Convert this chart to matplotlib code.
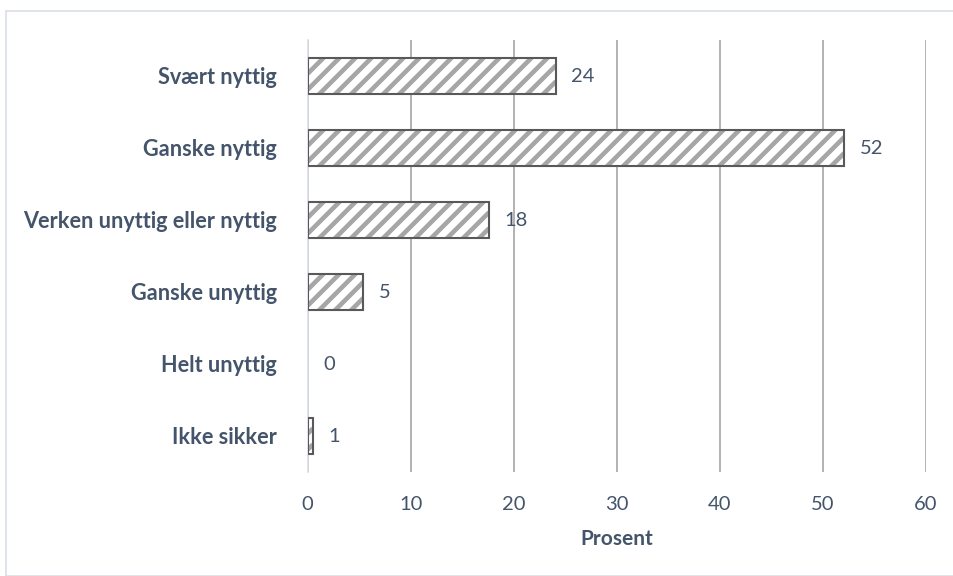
import matplotlib
matplotlib.use("Agg")
import matplotlib.pyplot as plt
from matplotlib.patches import Rectangle
from matplotlib.collections import LineCollection
import numpy as np

categories = ["Svært nyttig", "Ganske nyttig", "Verken unyttig eller nyttig",
              "Ganske unyttig", "Helt unyttig", "Ikke sikker"]
values = [24.1, 52.1, 17.6, 5.4, 0.0, 0.5]
labels = ["24", "52", "18", "5", "0", "1"]
xticks = [0, 10, 20, 30, 40, 50, 60]
xlabel = "Prosent"

TXT = "#44546A"
HATCH = "#A6A6A6"
plt.rcParams['font.family'] = ['Lato', 'DejaVu Sans']

W, H = 954, 576
fig = plt.figure(figsize=(W / 100, H / 100), dpi=100)
ax = fig.add_axes([307.7 / W, 1 - 472 / H, (925.7 - 307.7) / W, (472 - 40) / H])

ax.set_ylim(len(categories) - 0.5, -0.5)
ax.set_xlim(0, 60)

y = list(range(len(categories)))
bars = ax.barh(y, values, height=0.51, color='white', linewidth=0, zorder=2)
edge_lw = [1.5 if v > 0 else 0 for v in values]
ax.barh(y, values, height=0.51, fill=False, edgecolor='#595959', linewidth=edge_lw, zorder=4)

# wide upward diagonal fill pattern, drawn as lines clipped to each bar
period = 16.0
inv = ax.transData.inverted()
for b in bars:
    if b.get_width() <= 0:
        continue
    (ax0, ay0), (ax1, ay1) = ax.transData.transform(
        [[b.get_x(), b.get_y()], [b.get_x() + b.get_width(), b.get_y() + b.get_height()]])
    x0, x1 = min(ax0, ax1), max(ax0, ax1)
    ylo, yhi = min(ay0, ay1), max(ay0, ay1)
    h = yhi - ylo
    segs = []
    for o in np.arange(x0 - h - period, x1 + period, period):
        xs, xe = max(o, x0), min(o + h, x1)
        if xe - xs < 0.5:
            continue
        seg = inv.transform([[xs, ylo + (xs - o)], [xe, ylo + (xe - o)]])
        segs.append(seg)
    lc = LineCollection(segs, colors=HATCH, linewidths=3.3, zorder=3, capstyle='butt')
    ax.add_collection(lc)
    lc.set_clip_path(b)

for yi, v, lab in zip(y, values, labels):
    ax.text(v + 1.5, yi, lab, va='center', ha='left', fontsize=14.5, color=TXT)

ax.set_xticks(xticks)
ax.set_xticklabels([str(t) for t in xticks])
ax.set_yticks(y)
ax.set_yticklabels(categories, fontweight='bold', fontsize=15.6, color=TXT)
ax.tick_params(axis='y', length=0, pad=22)
ax.tick_params(axis='x', length=0, pad=17, labelsize=14.5, labelcolor=TXT)
ax.xaxis.grid(True, color='#A6A6A6', linewidth=1.2, zorder=0)
ax.set_axisbelow(True)
for s in ['top', 'right', 'bottom']:
    ax.spines[s].set_visible(False)
ax.spines['left'].set_color('#D9DEE8')
ax.spines['left'].set_linewidth(1.2)
ax.spines['left'].set_zorder(1)
ax.set_xlabel(xlabel, fontweight='bold', fontsize=15, color=TXT, labelpad=12)

fig.patches.append(Rectangle((6.5 / W, 0), 1.2, 1 - 11 / H, transform=fig.transFigure,
                             fill=False, edgecolor='#D9DEE8', linewidth=1.2))

fig.savefig("out.png", dpi=100)
